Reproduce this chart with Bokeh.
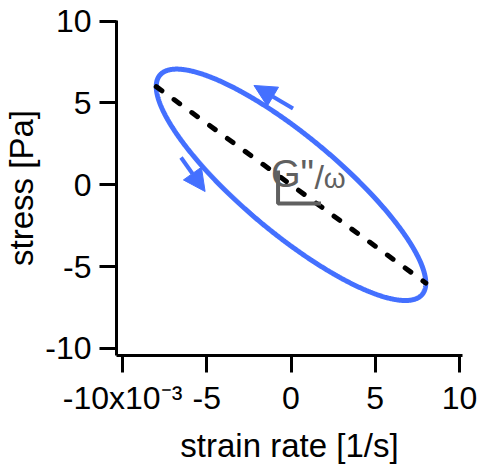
import numpy as np
from bokeh.plotting import figure
from bokeh.models import Range1d, FixedTicker, Arrow, NormalHead, Label
from bokeh.embed import file_html
from bokeh.resources import INLINE

# ---- data (strain rate in units of 10^-3 1/s, stress in Pa) ----
strain_rate_amplitude = 8.0        # x10^-3 1/s
viscous_stress_amplitude = -6.0    # Pa, in phase with strain rate
elastic_stress_amplitude = 3.74    # Pa, 90 deg out of phase
phase = np.linspace(0.0, 2.0 * np.pi, 721)

viscous_line_x = [-8.0, 8.0]
viscous_line_y = [6.0, -6.0]

x_ticks = [-10, -5, 0, 5, 10]
x_tick_labels = ["-10x10\u207b\u00b3", "-5", "0", "5", "10"]
y_ticks = [-10, -5, 0, 5, 10]
y_tick_labels = ["-10", "-5", "0", "5", "10"]

arrow_start_x = [0.12, -6.53]
arrow_start_y = [4.66, 1.67]
arrow_end_x = [-2.20, -5.10]
arrow_end_y = [6.07, -0.41]

slope_marker_x = [-0.77, -0.77, 1.78]
slope_marker_y = [0.87, -1.14, -1.14]

strain_rate = strain_rate_amplitude * np.cos(phase)
stress = viscous_stress_amplitude * np.cos(phase) + elastic_stress_amplitude * np.sin(phase)

BLUE = "#4470FF"
GRAY = "#606060"
FONT = "Liberation Sans"

p = figure(width=487, height=466, output_backend="svg", toolbar_location=None,
           x_range=Range1d(-10.36, 10.18), y_range=Range1d(-10.43, 10.04),
           min_border_left=116, min_border_right=25, min_border_top=20, min_border_bottom=111)
p.outline_line_color = None
p.xgrid.visible = False
p.ygrid.visible = False
p.background_fill_color = "white"
p.border_fill_color = "white"

for ax, ticks, labels, title in ((p.xaxis[0], x_ticks, x_tick_labels, "strain rate [1/s]"),
                                 (p.yaxis[0], y_ticks, y_tick_labels, "stress [Pa]")):
    ax.ticker = FixedTicker(ticks=ticks)
    ax.major_label_overrides = {t: l for t, l in zip(ticks, labels)}
    ax.axis_line_width = 3
    ax.axis_line_color = "black"
    ax.major_tick_line_width = 3
    ax.major_tick_line_color = "black"
    ax.major_tick_in = 0
    ax.major_tick_out = 17
    ax.minor_tick_line_color = None
    ax.major_label_text_font = FONT
    ax.major_label_text_font_size = "32px"
    ax.major_label_text_color = "black"
    ax.axis_label = title
    ax.axis_label_text_font = FONT
    ax.axis_label_text_font_size = "33px"
    ax.axis_label_text_font_style = "normal"
    ax.axis_label_text_color = "black"

p.xaxis[0].major_label_standoff = 7
p.xaxis[0].axis_label_standoff = 8
p.yaxis[0].major_label_standoff = 8
p.yaxis[0].axis_label_standoff = 2

# ellipse (Lissajous)
p.line(strain_rate, stress, line_color=BLUE, line_width=5)
# viscous contribution line
p.line(viscous_line_x, viscous_line_y, line_color="black", line_width=5,
       line_dash="7 15", line_cap="round")

# direction arrows
for sx, sy, ex, ey in zip(arrow_start_x, arrow_start_y, arrow_end_x, arrow_end_y):
    p.add_layout(Arrow(x_start=sx, y_start=sy, x_end=ex, y_end=ey,
                       line_color=BLUE, line_width=4,
                       end=NormalHead(size=22, fill_color=BLUE, line_color=BLUE, line_width=1)))

# slope marker
p.line(slope_marker_x, slope_marker_y, line_color=GRAY, line_width=4)
p.add_layout(Label(x=-1.19, y=0.69, text="G\"", text_font=FONT, text_font_size="38px",
                   text_color=GRAY, text_baseline="alphabetic", text_align="left"))
p.add_layout(Label(x=1.40, y=0.50, text="/", text_font=FONT, text_font_size="34px",
                   text_color=GRAY, text_baseline="alphabetic", text_align="left"))
p.add_layout(Label(x=1.95, y=0.40, text="\u03c9", text_font=FONT, text_font_size="28px",
                   text_color=GRAY, text_baseline="alphabetic", text_align="left"))

open("out.html", "w").write(file_html(p, INLINE))
